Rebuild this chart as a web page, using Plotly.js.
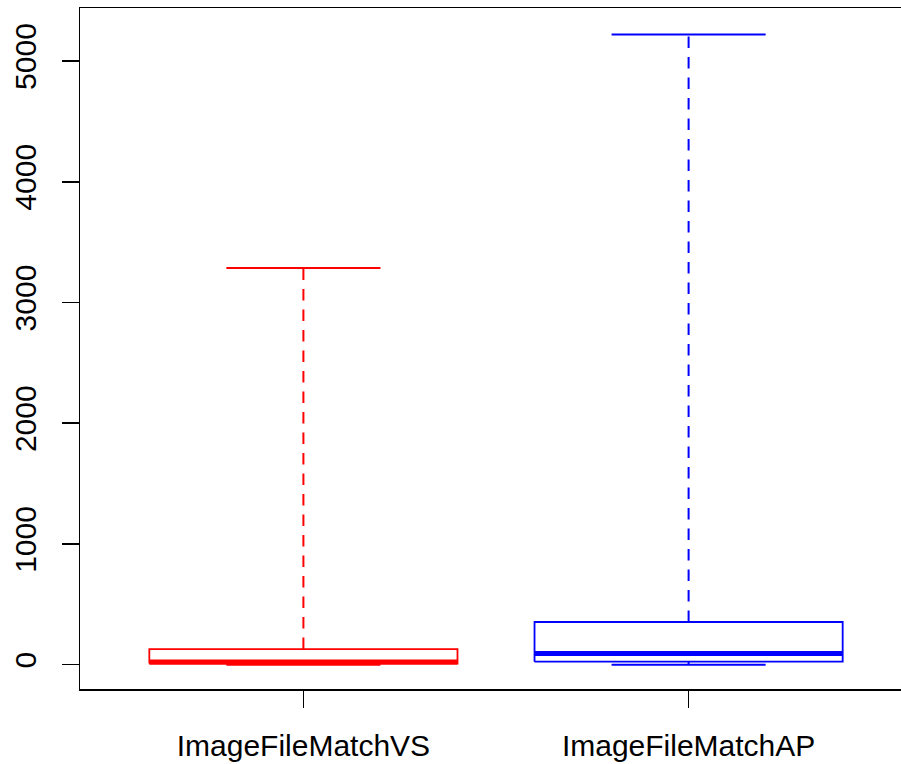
<!DOCTYPE html>
<html>
<head>
<meta charset="utf-8">
<script src="https://cdn.plot.ly/plotly-3.0.1.min.js"></script>
<style>
  html, body { margin: 0; padding: 0; background: #ffffff; }
  #chart { width: 901px; height: 764px; }
</style>
</head>
<body>
<div id="chart"></div>
<script>
// Five-number summaries for each group
const categories = ["ImageFileMatchVS", "ImageFileMatchAP"];
const minimums = [0, 0];
const lowerQuartiles = [10, 25];
const medians = [22, 94];
const upperQuartiles = [130, 354];
const maximums = [3285, 5220];
const colors = ["#ff0000", "#0000ff"];

const boxHalf = 0.4;   // half box width, in category units
const capHalf = 0.2;   // half whisker-cap width
const dashPattern = "11.5px,9px";

const traces = [];
categories.forEach((name, i) => {
  const c = i + 1;
  const col = colors[i];
  const common = { type: "scatter", mode: "lines", hoverinfo: "skip", showlegend: false };
  // upper and lower whiskers (dashed)
  traces.push(Object.assign({}, common, {
    x: [c, c], y: [upperQuartiles[i], maximums[i]],
    line: { color: col, width: 2, dash: dashPattern }
  }));
  traces.push(Object.assign({}, common, {
    x: [c, c], y: [minimums[i], lowerQuartiles[i]],
    line: { color: col, width: 2, dash: dashPattern }
  }));
  // whisker caps
  traces.push(Object.assign({}, common, {
    x: [c - capHalf, c + capHalf], y: [maximums[i], maximums[i]],
    line: { color: col, width: 2 }
  }));
  traces.push(Object.assign({}, common, {
    x: [c - capHalf, c + capHalf], y: [minimums[i], minimums[i]],
    line: { color: col, width: 2 }
  }));
  // box outline
  traces.push(Object.assign({}, common, {
    x: [c - boxHalf, c + boxHalf, c + boxHalf, c - boxHalf, c - boxHalf],
    y: [lowerQuartiles[i], lowerQuartiles[i], upperQuartiles[i], upperQuartiles[i], lowerQuartiles[i]],
    fill: "toself", fillcolor: "#ffffff",
    line: { color: col, width: 1.8 }
  }));
  // median bar
  traces.push(Object.assign({}, common, {
    x: [c - boxHalf, c + boxHalf], y: [medians[i], medians[i]],
    line: { color: col, width: 5 }
  }));
});

const axisFont = { family: "Liberation Sans, Arial, sans-serif", size: 30, color: "#000000" };

const layout = {
  width: 901,
  height: 764,
  margin: { l: 80, r: 0, t: 8, b: 75 },
  paper_bgcolor: "#ffffff",
  plot_bgcolor: "#ffffff",
  showlegend: false,
  xaxis: {
    range: [0.42, 2.5514],
    tickmode: "array",
    tickvals: categories.map((_, i) => i + 1),
    ticktext: categories,
    ticks: "outside",
    ticklen: 17,
    tickwidth: 1.5,
    tickcolor: "#000000",
    tickfont: axisFont,
    ticklabelstandoff: 12,
    showline: true,
    mirror: true,
    linecolor: "#000000",
    linewidth: 1.5,
    showgrid: false,
    zeroline: false,
    fixedrange: true
  },
  yaxis: {
    range: [-201, 5439],
    tickmode: "array",
    tickvals: [0, 1000, 2000, 3000, 4000, 5000],
    ticktext: ["0", "1000", "2000", "3000", "4000", "5000"],
    ticks: "outside",
    ticklen: 17,
    tickwidth: 1.5,
    tickcolor: "#000000",
    tickangle: -90,
    tickfont: axisFont,
    ticklabelstandoff: 14,
    showline: true,
    linecolor: "#000000",
    linewidth: 1.5,
    showgrid: false,
    zeroline: false,
    fixedrange: true
  }
};

Plotly.newPlot("chart", traces, layout, { displayModeBar: false, staticPlot: true });
</script>
</body>
</html>
